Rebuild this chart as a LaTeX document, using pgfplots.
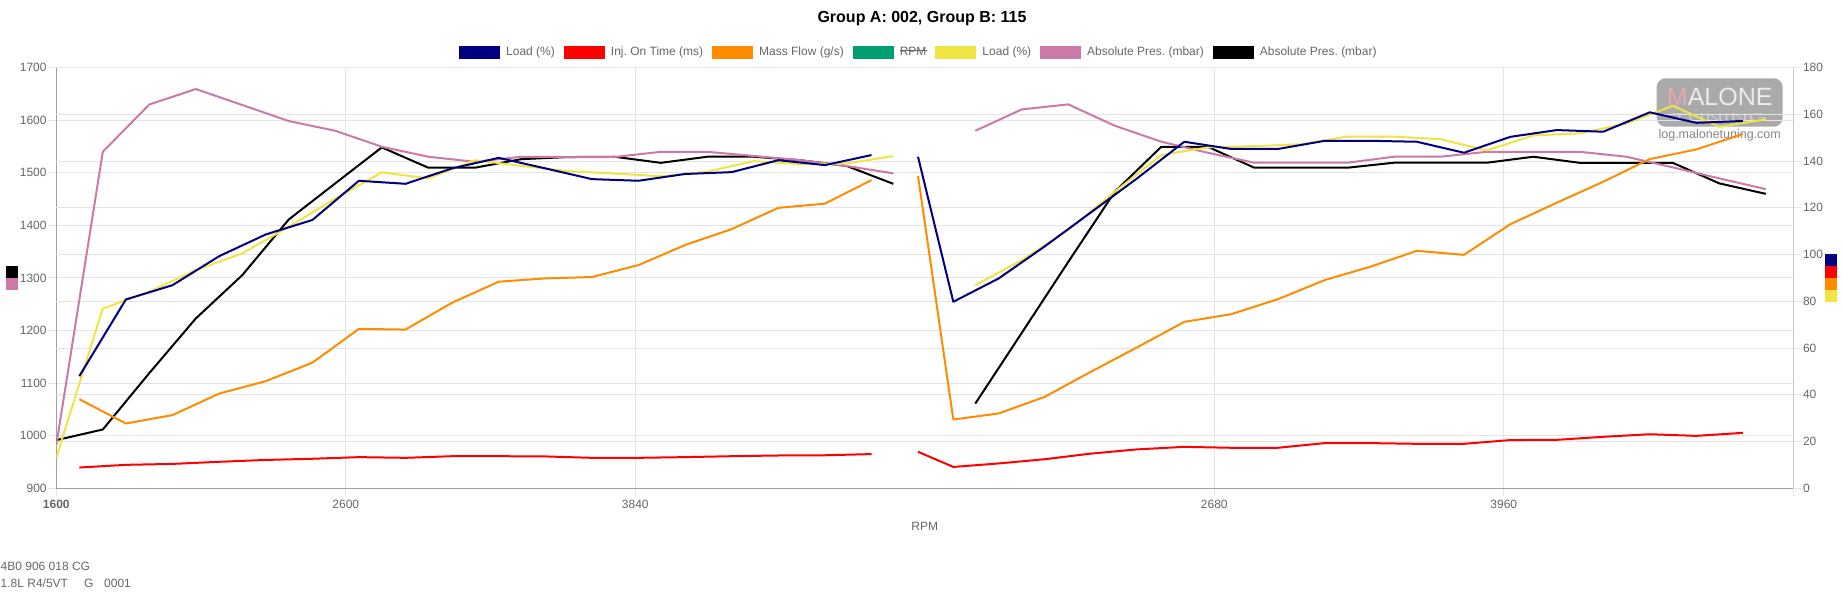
\documentclass[border=0pt]{standalone}
\usepackage{pgfplots}
\pgfplotsset{compat=1.18}
\usepackage{pgfplotstable}
\usepackage{fontspec}
\setmainfont{Liberation Sans}
\definecolor{navyc}{RGB}{0,0,128}
\definecolor{redc}{RGB}{255,0,0}
\definecolor{orangec}{RGB}{255,140,0}
\definecolor{greenc}{RGB}{0,158,115}
\definecolor{yellowc}{RGB}{240,228,66}
\definecolor{pinkc}{RGB}{204,121,167}
\definecolor{labelc}{RGB}{102,102,102}
\definecolor{gridc}{RGB}{228,228,228}
\definecolor{axisc}{RGB}{160,160,160}
\definecolor{raxisc}{RGB}{200,200,200}
\definecolor{logoc}{RGB}{170,170,170}
\definecolor{logom}{RGB}{236,165,178}
\definecolor{logot}{RGB}{236,236,236}
\newcommand{\fs}{\fontsize{12}{14}\selectfont}
\newcommand{\strikeRPM}{\makebox[0pt][l]{\rule[4.6pt]{26.7pt}{1.2pt}}RPM}

% Group A: Load (%), Inj. On Time (ms), Mass Flow (g/s)  -- right axis
\pgfplotstableread{
x load inj mass
23 47.96 8.85 38.1
69.6 80.8 10.0 27.7
116.2 86.9 10.4 31.3
162.8 99.3 11.3 40.5
209.4 108.6 12.1 45.8
256 114.8 12.6 53.7
302.6 131.6 13.3 68.2
349.2 130.3 13.0 67.9
395.8 136.9 13.7 79.4
442.4 141.4 13.7 88.4
489 136.9 13.6 89.8
535.6 132.3 13.0 90.4
582.2 131.6 13.0 95.5
628.8 134.5 13.3 104.1
675.4 135.3 13.7 110.9
722 140.4 14.0 120.0
768.6 138.3 14.1 121.8
815.2 142.6 14.6 131.9
840 nan nan nan
861.7 141.9 15.6 133.7
897 79.8 9.1 29.4
942.4 89.8 10.6 32.0
988.4 103.5 12.4 39.1
1034.4 118.0 14.8 49.8
1080.4 132.5 16.6 60.2
1128 148.3 17.7 71.2
1175 145.2 17.3 74.5
1221.5 145.2 17.3 80.9
1268.5 148.7 19.3 89.1
1314 148.7 19.3 94.8
1360.4 148.3 19.0 101.6
1407.7 143.6 19.0 99.9
1454 150.4 20.6 113.0
1500.5 153.3 20.7 122.2
1547 152.6 22.0 131.2
1593.5 160.9 23.1 140.9
1640 156.4 22.4 145.0
1686.5 157.2 23.7 151.6
}\groupA

% Group B: Load (%) right axis; Absolute Pres. (mbar) x2 left axis
\pgfplotstableread{
x load abs1 abs2
0 13.1 981.9 991.4
46.5 76.9 1540 1011.7
93 84.1 1630 1119
139.5 93.3 1659.4 1222.9
186 100.5 1629 1305.4
232.5 111.9 1598.5 1411.3
279 124 1580 1480
325.5 135.2 1549.6 1548.4
372 132.6 1530.6 1509.7
418.5 140.4 1521 1509.7
465 138 1530.6 1526
511.5 135.7 1530 1530
558 134.7 1530 1530.6
604.5 133.5 1540 1519
651 135.5 1540 1530.6
697.5 140 1532 1530.6
744 138.7 1524 1524
790.5 139 1513 1513
837 142.2 1499 1479
878 nan nan nan
919 86.9 1580 1061
965.5 97.6 1620.7 1195.6
1012 110.5 1630.2 1330.7
1058.5 126.9 1589.6 1464
1105 142.6 1559.2 1549.6
1151.5 145.9 1538.2 1549.6
1198 146.4 1519.2 1509.7
1244.5 147.2 1519.2 1509.7
1291 150.5 1519.2 1509.7
1337.5 150.5 1530.6 1519.2
1384 149.4 1530.6 1519.2
1430.5 144.6 1540 1519.2
1477 151 1540 1530.6
1523.5 151.9 1540 1519
1570 156.1 1530.6 1519
1616.5 163.7 1510.3 1519
1663 154.7 1489.4 1479.9
1709.5 157.9 1469 1460
}\groupB

\begin{document}
\frenchspacing
\begin{tikzpicture}[x=1pt,y=1pt]
\useasboundingbox (0pt,0pt) rectangle (1843pt,600pt);
% watermark logo (behind the chart)
\fill[logoc, rounded corners=9pt] (1656.7pt,473.3pt) rectangle (1782.7pt,521.7pt);
\node[anchor=base, inner sep=0pt, text=logot, font=\fontsize{25}{25}\selectfont] at (1719.7pt,494.5pt) {\textcolor{logom}{M}ALONE};
\node[anchor=base, inner sep=0pt, text=logot!45!logoc, font=\fontsize{25}{25}\selectfont] at (1719.7pt,478.5pt) {\scalebox{1}[0.45]{TUNING}};
\node[anchor=base, inner sep=0pt, text=labelc!80, font=\fontsize{12.5}{14}\selectfont] at (1719.7pt,461.5pt) {log.malonetuning.com};

% title
\node[anchor=base, inner sep=0pt, font=\fontsize{16}{19}\selectfont\bfseries] at (922pt,577.5pt) {Group A: 002, Group B: 115};

% axis colour markers
\fill[black] (5.9pt,322.3pt) rectangle (17.6pt,334pt);
\fill[pinkc] (5.9pt,310.3pt) rectangle (17.6pt,322.3pt);
\fill[navyc] (1825pt,334pt) rectangle (1836.7pt,346pt);
\fill[redc] (1825pt,322pt) rectangle (1836.7pt,334pt);
\fill[orangec] (1825pt,310pt) rectangle (1836.7pt,322pt);
\fill[yellowc] (1825pt,298pt) rectangle (1836.7pt,310pt);

% footer
\node[anchor=base west, inner sep=0pt, font=\fs, text=labelc] at (0.5pt,29.3pt) {4B0 906 018 CG};
\node[anchor=base west, inner sep=0pt, font=\fs, text=labelc] at (0.5pt,12.7pt) {1.8L R4/5VT};
\node[anchor=base west, inner sep=0pt, font=\fs, text=labelc] at (84pt,12.7pt) {G};
\node[anchor=base west, inner sep=0pt, font=\fs, text=labelc] at (104pt,12.7pt) {0001};

% left axis: Absolute Pres. (mbar)
\begin{axis}[
  at={(56.3pt,111.8pt)}, anchor=south west,
  scale only axis, width=1737pt, height=420.5pt,
  xmin=0, xmax=1737, ymin=900, ymax=1700,
  enlargelimits=false,
  axis x line=bottom, axis y line=left,
  axis line style={-, draw=axisc, line width=1pt},
  xtick={0,289.5,579,1158,1447.5,1737},
  xticklabels={\textbf{1600},2600,3840,2680,3960,{}},
  ytick={900,1000,1100,1200,1300,1400,1500,1600,1700},
  yticklabels={900,1000,1100,1200,1300,1400,1500,1600,1700},
  extra y ticks={988.9,1077.8,1166.7,1255.6,1344.4,1433.3,1522.2,1611.1},
  extra y tick labels={},
  extra y tick style={grid=major, major tick length=0pt},
  grid=major, major grid style={draw=gridc, line width=1pt},
  tick align=outside, major tick length=8pt,
  tick style={draw=gridc, line width=1pt},
  ticklabel style={font=\fs, text=labelc},
  yticklabel style={inner xsep=1.5pt},
  xlabel={RPM},
  xlabel style={font=\fs, text=labelc, at={(axis description cs:0.5,0)}, anchor=center, yshift=-38.5pt},
  unbounded coords=jump,
  line join=round,
  legend image code/.code={\fill[#1, draw=none] (0pt,-6.5pt) rectangle (41pt,6.5pt);},
  legend cell align=left,
  legend style={at={(axis description cs:0.49603,1.0373)}, anchor=center,
    draw=none, fill=none, inner sep=0pt, outer sep=0pt,
    font=\fs, text=labelc, legend columns=-1,
    nodes={inner sep=0pt},
    /tikz/every odd column/.append style={column sep=6pt},
    /tikz/every even column/.append style={column sep=9pt}},
]
\addlegendimage{navyc}\addlegendentry{Load (\%)}
\addlegendimage{redc}\addlegendentry{Inj. On Time (ms)}
\addlegendimage{orangec}\addlegendentry{Mass Flow (g/s)}
\addlegendimage{greenc}\addlegendentry{\strikeRPM}
\addlegendimage{yellowc}\addlegendentry{Load (\%)}
\addlegendimage{pinkc}\addlegendentry{Absolute Pres. (mbar)}
\addlegendimage{black}\addlegendentry{Absolute Pres. (mbar)}
\addplot[black, line width=2pt, forget plot] table[x=x, y=abs2] {\groupB};
\addplot[pinkc, line width=2pt, forget plot] table[x=x, y=abs1] {\groupB};
\end{axis}

% right axis: Load, Inj. On Time, Mass Flow, Load (group B)
\begin{axis}[
  at={(56.3pt,111.8pt)}, anchor=south west,
  scale only axis, width=1737pt, height=420.5pt,
  xmin=0, xmax=1737, ymin=0, ymax=180,
  enlargelimits=false,
  axis x line=none, axis y line=right,
  axis line style={-, draw=raxisc, line width=1pt},
  ytick={0,20,40,60,80,100,120,140,160,180},
  yticklabels={0,20,40,60,80,100,120,140,160,180},
  tick align=outside, major tick length=8pt,
  tick style={draw=gridc, line width=1pt},
  yticklabel style={font=\fs, text=labelc, inner xsep=1.5pt},
  unbounded coords=jump,
  line join=round,
]
\addplot[yellowc, line width=2pt] table[x=x, y=load] {\groupB};
\addplot[orangec, line width=2pt] table[x=x, y=mass] {\groupA};
\addplot[redc, line width=2pt] table[x=x, y=inj] {\groupA};
\addplot[navyc, line width=2pt] table[x=x, y=load] {\groupA};
\end{axis}
\end{tikzpicture}
\end{document}
